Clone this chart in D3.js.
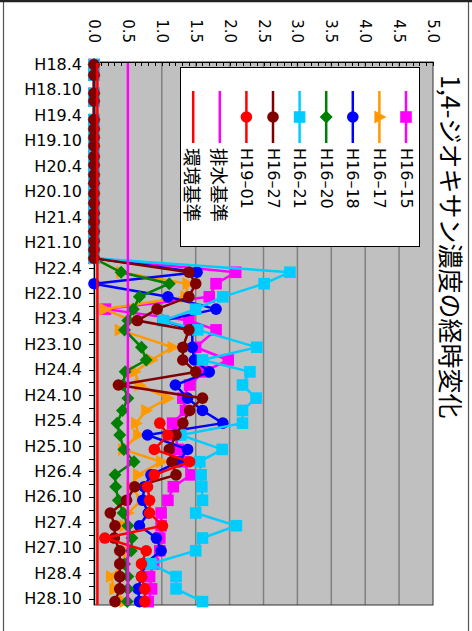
<!DOCTYPE html>
<html>
<head>
<meta charset="utf-8">
<script src="https://cdn.jsdelivr.net/npm/d3@7"></script>
<style>
body { margin: 0; background: #fff; }
svg text { font-family: "DejaVu Sans", sans-serif; fill: #000; }
</style>
</head>
<body>
<script>
// sampling dates, in months counted from H18.4
var months = [0, 2.5, 6.8, 8.6, 13, 15.2, 17.2, 19.2, 21.7, 23.7, 26, 28, 30.4, 32.7, 35.1, 37.1, 39.4, 41.7, 43.7, 45.7,
  49, 51.7, 54.8, 57.7, 60.4, 62.6, 66.7, 69.7, 72.5, 75.6, 78.7, 81.6, 84.6, 87.4, 90.8, 93.7, 96.8, 99.6,
  102.8, 105.8, 108.8, 111.7, 114.7, 117.8, 120.8, 123.7, 126.7];

// mg/L
var h16_15 = [0,0,0,0,0,0,0,0,0,0,0,0,0,0,0,0,0,0,0,0,
  2.09,1.80,1.70,0.17,1.40,1.80,1.50,1.98,1.62,1.41,1.31,1.35,1.16,1.20,1.24,1.30,1.43,1.17,1.09,0.99,0.99,0.97,0.97,0.88,0.82,0.85,0.80];
var h16_17 = [0,0,0,0,0,0,0,0,0,0,0,0,0,0,0,0,0,0,0,0,
  0.40,1.38,1.35,0.16,0.55,0.38,1.16,0.85,0.60,0.67,1.09,0.77,0.62,0.65,0.43,0.99,0.65,0.55,0.70,0.50,0.45,0.55,0.45,0.45,0.25,0.30,0.45];
var h16_18 = [0,0,0,0,0,0,0,0,0,0,0,0,0,0,0,0,0,0,0,0,
  1.52,0.00,1.09,1.80,1.02,1.45,1.45,1.48,1.70,1.20,1.38,1.60,1.90,0.79,1.38,1.25,0.84,0.74,0.72,0.80,0.67,0.92,0.99,0.75,0.70,0.65,0.67];
var h16_20 = [0,0,0,0,0,0,0,0,0,0,0,0,0,0,0,0,0,0,0,0,
  0.40,1.11,0.67,0.58,0.50,0.45,0.70,0.77,0.46,0.43,0.50,0.42,0.34,0.38,0.44,0.59,0.31,0.32,0.36,0.43,0.50,0.56,0.55,0.45,0.50,0.50,0.49];
var h16_21 = [0,0,0,0,0,0,0,0,0,0,0,0,0,0,0,0,0,0,0,0,
  2.89,2.51,1.90,1.50,1.02,1.53,2.40,1.60,2.30,2.19,2.39,2.19,2.19,1.28,1.89,1.56,1.58,1.59,1.60,1.50,2.10,1.60,1.50,0.84,1.21,1.21,1.60];
var h16_27 = [0,0,0,0,0,0,0,0,0,0,0,0,0,0,0,0,0,0,0,0,
  1.40,1.50,1.40,0.93,0.64,1.40,1.31,1.31,1.50,0.36,1.60,1.41,1.31,1.21,1.11,1.15,1.21,0.60,0.48,0.24,0.31,0.30,0.38,0.38,0.38,0.38,0.31];
var h19_01 = [null,null,null,null,null,null,null,null,null,null,null,null,null,null,null,null,null,null,null,null,
  null,null,null,null,null,null,null,null,null,null,null,null,0.97,1.09,0.89,1.41,0.89,0.79,0.82,0.82,1.01,0.16,0.77,0.70,0.70,0.75,0.75];

var seriesNames = ['H16–15', 'H16–17', 'H16–18', 'H16–20', 'H16–21', 'H16–27', 'H19–01'];
var seriesColors = ['#ff00ff', '#ff9900', '#0000ff', '#008000', '#00ccff', '#800000', '#ff0000'];
var seriesMarkers = ['square', 'triangle', 'circle', 'diamond', 'square', 'circle', 'circle'];

var effluentStd = 0.5;      // 排水基準
var environmentStd = 0.05;  // 環境基準

var valueTicks = ['0.0','0.5','1.0','1.5','2.0','2.5','3.0','3.5','4.0','4.5','5.0'];
var dateLabels = ['H18.4','H18.10','H19.4','H19.10','H20.4','H20.10','H21.4','H21.10','H22.4','H22.10','H23.4',
  'H23.10','H24.4','H24.10','H25.4','H25.10','H26.4','H26.10','H27.4','H27.10','H28.4','H28.10'];

var title = '1,4-ジオキサン濃度の経時変化';

var seriesValues = [h16_15, h16_17, h16_18, h16_20, h16_21, h16_27, h19_01];

var width = 472, height = 631;
var plot = {left: 94, right: 433, top: 62, bottom: 605};

var svg = d3.select('body').append('svg')
  .attr('width', width)
  .attr('height', height);

// outer frame
svg.append('rect')
  .attr('x', 3.5).attr('y', 1)
  .attr('width', 465).attr('height', 650)
  .attr('fill', 'none')
  .attr('stroke', '#555')
  .attr('stroke-width', 1.2);
svg.append('line')
  .attr('x1', 0).attr('x2', width).attr('y1', 1).attr('y2', 1)
  .attr('stroke', '#222').attr('stroke-width', 2.5);

var x = d3.scaleLinear().domain([0, 5]).range([plot.left, plot.right]);
var y = d3.scaleLinear().domain([-0.6, 127.5]).range([plot.top, plot.bottom]);

function labelMonth(s) {
  var p = s.slice(1).split('.');
  return (+p[0] - 18) * 12 + (+p[1] - 4);
}

// plot background
svg.append('rect')
  .attr('x', plot.left).attr('y', plot.top)
  .attr('width', plot.right - plot.left).attr('height', plot.bottom - plot.top)
  .attr('fill', '#c0c0c0');

// vertical gridlines
svg.append('g').selectAll('line')
  .data(valueTicks.slice(1, -1))
  .enter().append('line')
  .attr('x1', function(d){ return x(+d); })
  .attr('x2', function(d){ return x(+d); })
  .attr('y1', plot.top).attr('y2', plot.bottom)
  .attr('stroke', '#808080')
  .attr('stroke-width', 1.5);

// plot border
svg.append('rect')
  .attr('x', plot.left).attr('y', plot.top)
  .attr('width', plot.right - plot.left).attr('height', plot.bottom - plot.top)
  .attr('fill', 'none')
  .attr('stroke', '#333')
  .attr('stroke-width', 1);

// top value axis: minor ticks inside, labels rotated
var minorTicks = d3.range(0, 5.0001, 0.1);
svg.append('g').selectAll('line')
  .data(minorTicks)
  .enter().append('line')
  .attr('x1', function(d){ return Math.round(x(d)) + 0.5; })
  .attr('x2', function(d){ return Math.round(x(d)) + 0.5; })
  .attr('y1', plot.top).attr('y2', plot.top + 4)
  .attr('stroke', '#000');
svg.append('line')
  .attr('x1', plot.left).attr('x2', plot.right)
  .attr('y1', plot.top + 0.5).attr('y2', plot.top + 0.5)
  .attr('stroke', '#000');

svg.append('g').selectAll('text')
  .data(valueTicks)
  .enter().append('text')
  .attr('transform', function(d){ return 'translate(' + x(+d) + ',43) rotate(90)'; })
  .attr('text-anchor', 'end')
  .attr('dominant-baseline', 'central')
  .style('font-size', '15px')
  .text(function(d){ return d; });

// left date axis
var leftTicks = d3.range(0, 127.5, 3);
svg.append('g').selectAll('line')
  .data(leftTicks)
  .enter().append('line')
  .attr('x1', plot.left - 5).attr('x2', plot.left)
  .attr('y1', function(d){ return Math.round(y(d)) + 0.5; })
  .attr('y2', function(d){ return Math.round(y(d)) + 0.5; })
  .attr('stroke', '#000');
svg.append('line')
  .attr('x1', plot.left + 0.5).attr('x2', plot.left + 0.5)
  .attr('y1', plot.top).attr('y2', plot.bottom)
  .attr('stroke', '#000');

svg.append('g').selectAll('text')
  .data(dateLabels)
  .enter().append('text')
  .attr('x', 82)
  .attr('y', function(d){ return y(labelMonth(d)); })
  .attr('text-anchor', 'end')
  .attr('dominant-baseline', 'central')
  .style('font-size', '16px')
  .text(function(d){ return d; });

// markers
function drawMarker(g, type, color, cx, cy) {
  if (type === 'circle') {
    g.append('circle').attr('cx', cx).attr('cy', cy).attr('r', 5.8).attr('fill', color);
  } else if (type === 'square') {
    g.append('rect').attr('x', cx - 5.8).attr('y', cy - 5.8).attr('width', 11.6).attr('height', 11.6).attr('fill', color);
  } else if (type === 'triangle') {
    g.append('path').attr('d', 'M' + (cx + 7) + ',' + cy + 'L' + (cx - 5) + ',' + (cy - 6.5) + 'L' + (cx - 5) + ',' + (cy + 6.5) + 'Z').attr('fill', color);
  } else if (type === 'diamond') {
    g.append('path').attr('d', 'M' + cx + ',' + (cy - 6.5) + 'L' + (cx + 6.5) + ',' + cy + 'L' + cx + ',' + (cy + 6.5) + 'L' + (cx - 6.5) + ',' + cy + 'Z').attr('fill', color);
  }
}

var line = d3.line()
  .defined(function(d){ return d.v != null; })
  .x(function(d){ return x(d.v); })
  .y(function(d){ return y(d.m); });

var chart = svg.append('g');
seriesValues.forEach(function(vals, i){
  var pts = vals.map(function(v, j){ return {m: months[j], v: v}; });
  var g = chart.append('g');
  g.append('path')
    .datum(pts)
    .attr('d', line)
    .attr('fill', 'none')
    .attr('stroke', seriesColors[i])
    .attr('stroke-width', 2.5);
  pts.forEach(function(p){
    if (p.v != null) drawMarker(g, seriesMarkers[i], seriesColors[i], x(p.v), y(p.m));
  });
});

// standards
chart.append('line')
  .attr('x1', x(effluentStd)).attr('x2', x(effluentStd))
  .attr('y1', plot.top + 1).attr('y2', plot.bottom)
  .attr('stroke', '#ff00ff').attr('stroke-width', 2.5);
chart.append('line')
  .attr('x1', x(environmentStd)).attr('x2', x(environmentStd))
  .attr('y1', plot.top + 1).attr('y2', plot.bottom)
  .attr('stroke', '#ff0000').attr('stroke-width', 2.5);

// legend
var legend = svg.append('g');
legend.append('rect')
  .attr('x', 180.5).attr('y', 67.5)
  .attr('width', 239).attr('height', 179)
  .attr('fill', '#fff')
  .attr('stroke', '#000');

var legendItems = seriesNames.map(function(n, i){
  return {name: n, color: seriesColors[i], marker: seriesMarkers[i]};
});
legendItems.push({name: '排水基準', color: '#ff00ff', marker: null});
legendItems.push({name: '環境基準', color: '#ff0000', marker: null});

legendItems.forEach(function(d, i){
  var lx = 406 - i * 26.6;
  legend.append('line')
    .attr('x1', lx).attr('x2', lx)
    .attr('y1', 91).attr('y2', 143)
    .attr('stroke', d.color).attr('stroke-width', 2.5);
  if (d.marker) drawMarker(legend, d.marker, d.color, lx, 117);
  legend.append('text')
    .attr('transform', 'translate(' + lx + ',148) rotate(90)')
    .attr('dominant-baseline', 'central')
    .style('font-size', d.marker ? '16px' : '18.5px')
    .style('font-family', d.marker ? null : '"Noto Sans CJK JP", sans-serif')
    .text(d.name);
});

// title
svg.append('text')
  .attr('transform', 'translate(452,75) rotate(90)')
  .attr('dominant-baseline', 'central')
  .style('font-family', '"Noto Sans CJK JP", sans-serif')
  .style('font-size', '25px')
  .text(title);
</script>
</body>
</html>
